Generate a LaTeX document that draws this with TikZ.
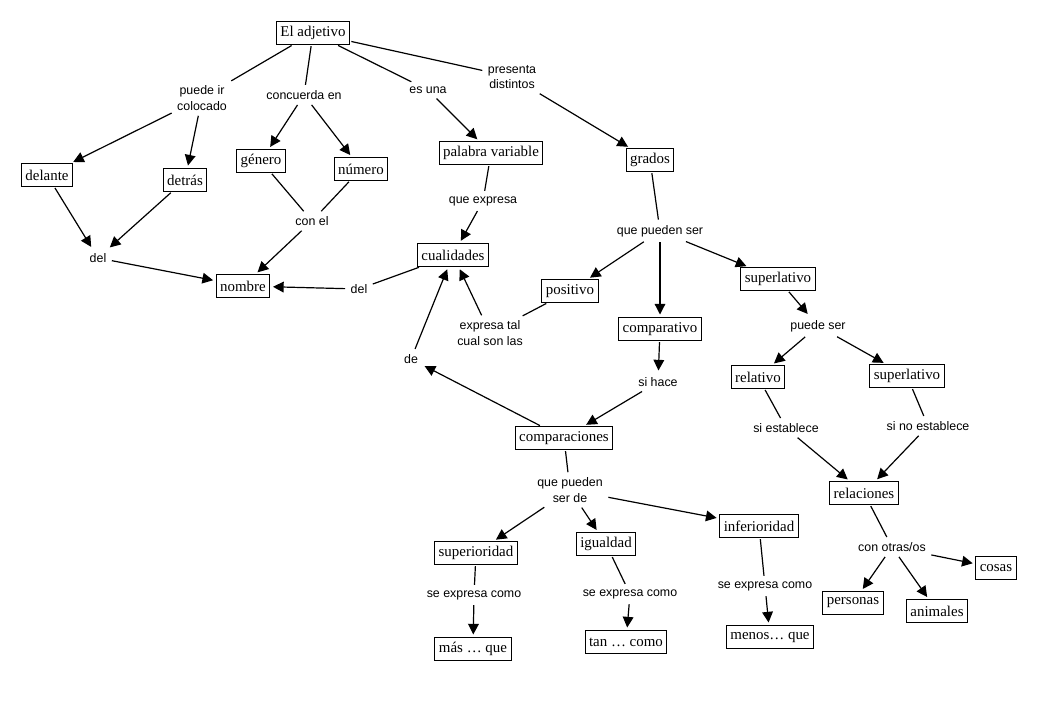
\documentclass[tikz,border=0pt]{standalone}
\usepackage{fontspec}
\setmainfont{Liberation Serif}
\newfontfamily\enlacefont{Liberation Sans}
\usetikzlibrary{arrows.meta}

\begin{document}
\begin{tikzpicture}[x=0.75pt,y=-0.75pt,
        concepto/.style={draw,line width=0.75pt,font=\fontsize{11.2}{13}\selectfont,
          inner xsep=3pt,inner ysep=0pt,minimum height=17pt},
        enlace/.style={font=\enlacefont\fontsize{9.3}{11.5}\selectfont,align=center,inner sep=3pt},
        linea/.style={line width=0.9pt,shorten <=1pt,shorten >=1pt},
        flecha/.style={linea,-{Triangle[length=8pt,width=8pt]},shorten >=2pt}]
        \useasboundingbox (0,0) rectangle (1057,701);

        % concepts
        \node[concepto] (adjetivo) at (313,33) {El adjetivo};
        \node[concepto] (delante) at (47,175) {delante};
        \node[concepto] (detras) at (185,180) {detrás};
        \node[concepto] (genero) at (261,161) {género};
        \node[concepto] (numero) at (361,169) {número};
        \node[concepto] (nombre) at (243,286) {nombre};
        \node[concepto] (palabra) at (491,153) {palabra variable};
        \node[concepto] (grados) at (650,160) {grados};
        \node[concepto] (cualidades) at (453,255) {cualidades};
        \node[concepto] (positivo) at (570,291) {positivo};
        \node[concepto] (comparativo) at (660,329) {comparativo};
        \node[concepto] (superlativo) at (778,279) {superlativo};
        \node[concepto] (relativo) at (758,377) {relativo};
        \node[concepto] (absoluto) at (907,376) {superlativo};
        \node[concepto] (comparaciones) at (564,438) {comparaciones};
        \node[concepto] (relaciones) at (864,493) {relaciones};
        \node[concepto] (superioridad) at (476,553) {superioridad};
        \node[concepto] (igualdad) at (606,544) {igualdad};
        \node[concepto] (inferioridad) at (759,526) {inferioridad};
        \node[concepto] (mas) at (473,649) {más \ldots{} que};
        \node[concepto] (tan) at (626,642) {tan \ldots{} como};
        \node[concepto] (menos) at (770,637) {menos\ldots{} que};
        \node[concepto] (personas) at (853,603) {personas};
        \node[concepto] (animales) at (937,611) {animales};
        \node[concepto] (cosas) at (996,568) {cosas};

        % linking phrases
        \node[enlace] (colocado) at (202,98) {puede ir\\colocado};
        \node[enlace] (concuerda) at (304,95) {concuerda en};
        \node[enlace] (esuna) at (428,90) {es una};
        \node[enlace] (presenta) at (512,77) {presenta\\distintos};
        \node[enlace] (delA) at (98,258) {del};
        \node[enlace] (conel) at (312,221) {con el};
        \node[enlace] (expresa) at (483,201) {que expresa};
        \node[enlace] (delB) at (359,289) {del};
        \node[enlace] (puedenser) at (660,231) {que pueden ser};
        \node[enlace] (talcual) at (490,333) {expresa tal\\cual son las};
        \node[enlace] (de) at (411,359) {de};
        \node[enlace] (sihace) at (658,382) {si hace};
        \node[enlace] (puedeser) at (818,326) {puede ser};
        \node[enlace] (establece) at (786,428) {si establece};
        \node[enlace] (noestablece) at (928,426) {si no establece};
        \node[enlace] (serde) at (570,490) {que pueden\\ser de};
        \node[enlace] (comoA) at (474,595) {se expresa como};
        \node[enlace] (comoB) at (630,594) {se expresa como};
        \node[enlace] (comoC) at (765,586) {se expresa como};
        \node[enlace] (otros) at (892,547) {con otras/os};

        % El adjetivo
        \draw[linea] (adjetivo) -- (colocado);
        \draw[flecha] (colocado) -- (delante);
        \draw[flecha] (colocado) -- (detras);
        \draw[linea] (adjetivo) -- (concuerda);
        \draw[flecha] (concuerda) -- (genero);
        \draw[flecha] (concuerda) -- (numero);
        \draw[linea] (adjetivo) -- (esuna);
        \draw[flecha] (esuna) -- (palabra);
        \draw[linea] (adjetivo) -- (presenta);
        \draw[flecha] (presenta) -- (grados);

        % nombre
        \draw[flecha] (delante) -- (delA);
        \draw[flecha] (detras) -- (delA);
        \draw[flecha] (delA) -- (nombre);
        \draw[linea] (genero) -- (conel);
        \draw[linea] (numero) -- (conel);
        \draw[flecha] (conel) -- (nombre);

        % cualidades
        \draw[linea] (palabra) -- (expresa);
        \draw[flecha] (expresa) -- (cualidades);
        \draw[linea] (cualidades) -- (delB);
        \draw[flecha] (delB) -- (nombre);
        \draw[linea] (positivo) -- (talcual);
        \draw[flecha] (talcual) -- (cualidades);
        \draw[flecha] (comparaciones) -- (de);
        \draw[flecha] (de) -- (cualidades);

        % grados
        \draw[linea] (grados) -- (puedenser);
        \draw[flecha] (puedenser) -- (positivo);
        \draw[flecha] (puedenser) -- (comparativo);
        \draw[flecha] (puedenser) -- (superlativo);
        \draw[flecha] (comparativo) -- (sihace);
        \draw[flecha] (sihace) -- (comparaciones);

        % superlativo
        \draw[flecha] (superlativo) -- (puedeser);
        \draw[flecha] (puedeser) -- (relativo);
        \draw[flecha] (puedeser) -- (absoluto);
        \draw[linea] (relativo) -- (establece);
        \draw[flecha] (establece) -- (relaciones);
        \draw[linea] (absoluto) -- (noestablece);
        \draw[flecha] (noestablece) -- (relaciones);
        \draw[linea] (relaciones) -- (otros);
        \draw[flecha] (otros) -- (personas);
        \draw[flecha] (otros) -- (animales);
        \draw[flecha] (otros) -- (cosas);

        % comparaciones
        \draw[linea] (comparaciones) -- (serde);
        \draw[flecha] (serde) -- (superioridad);
        \draw[flecha] (serde) -- (igualdad);
        \draw[flecha] (serde) -- (inferioridad);
        \draw[linea] (superioridad) -- (comoA);
        \draw[flecha] (comoA) -- (mas);
        \draw[linea] (igualdad) -- (comoB);
        \draw[flecha] (comoB) -- (tan);
        \draw[linea] (inferioridad) -- (comoC);
        \draw[flecha] (comoC) -- (menos);

      \end{tikzpicture}
\end{document}
